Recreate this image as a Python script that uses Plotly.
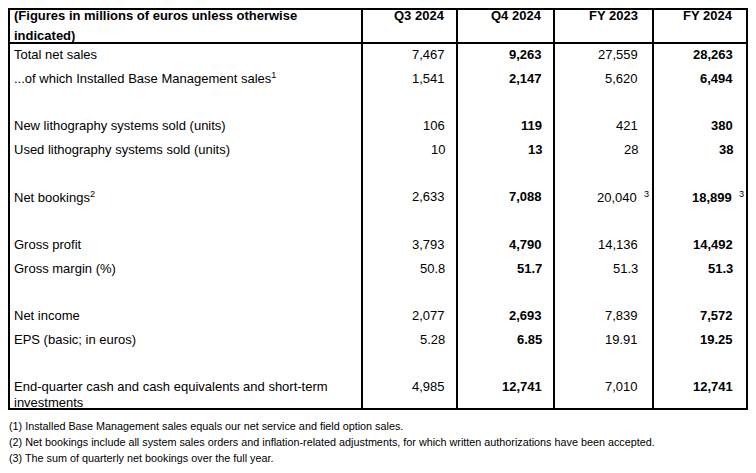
import plotly.graph_objects as go

# ---- data ----
header_label = "(Figures in millions of euros unless otherwise<br>indicated)"
columns = ["Q3 2024", "Q4 2024", "FY 2023", "FY 2024"]
bold_columns = [False, True, False, True]

labels = [
    "Total net sales",
    "...of which Installed Base Management sales<sup>1</sup>",
    "",
    "New lithography systems sold (units)",
    "Used lithography systems sold (units)",
    "",
    "Net bookings<sup>2</sup>",
    "",
    "Gross profit",
    "Gross margin (%)",
    "",
    "Net income",
    "EPS (basic; in euros)",
    "",
    "End-quarter cash and cash equivalents and short-term<br>investments",
]

q3_2024 = [7467, 1541, None, 106, 10, None, 2633, None, 3793, 50.8, None, 2077, 5.28, None, 4985]
q4_2024 = [9263, 2147, None, 119, 13, None, 7088, None, 4790, 51.7, None, 2693, 6.85, None, 12741]
fy_2023 = [27559, 5620, None, 421, 28, None, 20040, None, 14136, 51.3, None, 7839, 19.91, None, 7010]
fy_2024 = [28263, 6494, None, 380, 38, None, 18899, None, 14492, 51.3, None, 7572, 19.25, None, 12741]

# footnote marks next to values
q3_notes = [""] * 15
q4_notes = [""] * 15
fy_2023_notes = ["", "", "", "", "", "", "3", "", "", "", "", "", "", "", ""]
fy_2024_notes = ["", "", "", "", "", "", "3", "", "", "", "", "", "", "", ""]

footnotes = [
    "(1) Installed Base Management sales equals our net service and field option sales.",
    "(2) Net bookings include all system sales orders and inflation-related adjustments, for which written authorizations have been accepted.",
    "(3) The sum of quarterly net bookings over the full year.",
]

values = [q3_2024, q4_2024, fy_2023, fy_2024]
notes = [q3_notes, q4_notes, fy_2023_notes, fy_2024_notes]

# ---- geometry (page pixels) ----
W, H = 756, 473
PAGE_OFF = 8  # default body margin of the html page
col_edges = [9, 362, 457, 554, 653, 747]
col_pad = [11, 11, 14, 13]
table_top, header_bottom, table_bottom = 9, 43, 409
label_x = 13
header_y, header_gap = 15.7, 20
first_row_y, row_pitch, line_gap = 54.5, 23.74, 16
foot_x, foot_y, foot_gap = 8, 426, 16
note_shift = 11

FONT = "Liberation Sans, Arial, sans-serif"
fs = 13


def fmt(v):
    return f"{v:,}"


def txt(s, bold=False):
    return f"<b>{s}</b>" if bold else s


fig = go.Figure()
fig.add_trace(go.Scatter(x=[W / 2], y=[H / 2], mode="markers", marker=dict(opacity=0),
                         showlegend=False, hoverinfo="skip"))

ann = []
# header
for k, line in enumerate(header_label.split("<br>")):
    ann.append(dict(x=label_x, y=header_y + k * header_gap, text=txt(line, True),
                    xanchor="left", yanchor="middle", font=dict(size=fs)))
for c, name in enumerate(columns):
    ann.append(dict(x=col_edges[c + 2] - col_pad[c], y=header_y, text=txt(name, True),
                    xanchor="right", yanchor="middle", font=dict(size=fs)))

# body
for i, lab in enumerate(labels):
    y = first_row_y + i * row_pitch
    for k, line in enumerate(lab.split("<br>")):
        if line:
            ann.append(dict(x=label_x, y=y + k * line_gap, text=line,
                            xanchor="left", yanchor="middle", font=dict(size=fs)))
    for c in range(len(columns)):
        v = values[c][i]
        if v is None:
            continue
        t = txt(fmt(v), bold_columns[c])
        shift = 0
        if notes[c][i]:
            t += "\u00a0\u00a0<sup>" + notes[c][i] + "</sup>"
            shift = note_shift
        ann.append(dict(x=col_edges[c + 2] - col_pad[c], y=y, text=t, xshift=shift,
                        xanchor="right", yanchor="middle", font=dict(size=fs)))

# footnotes
for k, f in enumerate(footnotes):
    ann.append(dict(x=foot_x, y=foot_y + k * foot_gap, text=f,
                    xanchor="left", yanchor="middle", font=dict(size=10.8)))

for a in ann:
    a.update(xref="x", yref="y", showarrow=False, borderpad=0)

line = dict(color="black", width=2)
shapes = [dict(type="rect", x0=col_edges[0], x1=col_edges[-1], y0=table_top, y1=table_bottom, line=line),
          dict(type="line", x0=col_edges[0], x1=col_edges[-1], y0=header_bottom, y1=header_bottom, line=line)]
for xe in col_edges[1:-1]:
    shapes.append(dict(type="line", x0=xe, x1=xe, y0=table_top, y1=table_bottom, line=line))
for s in shapes:
    s.update(xref="x", yref="y")

# figure sits inside the page margin, so keep page coordinates on the axes
fig.update_layout(
    width=W - PAGE_OFF, height=H - 2 * PAGE_OFF,
    margin=dict(l=0, r=0, t=0, b=0),
    paper_bgcolor="white", plot_bgcolor="white",
    font=dict(family=FONT, size=fs, color="black"),
    xaxis=dict(range=[PAGE_OFF, W], visible=False, fixedrange=True),
    yaxis=dict(range=[H - PAGE_OFF, PAGE_OFF], visible=False, fixedrange=True),
    annotations=ann, shapes=shapes,
    showlegend=False,
)

fig.write_html("out.html")
